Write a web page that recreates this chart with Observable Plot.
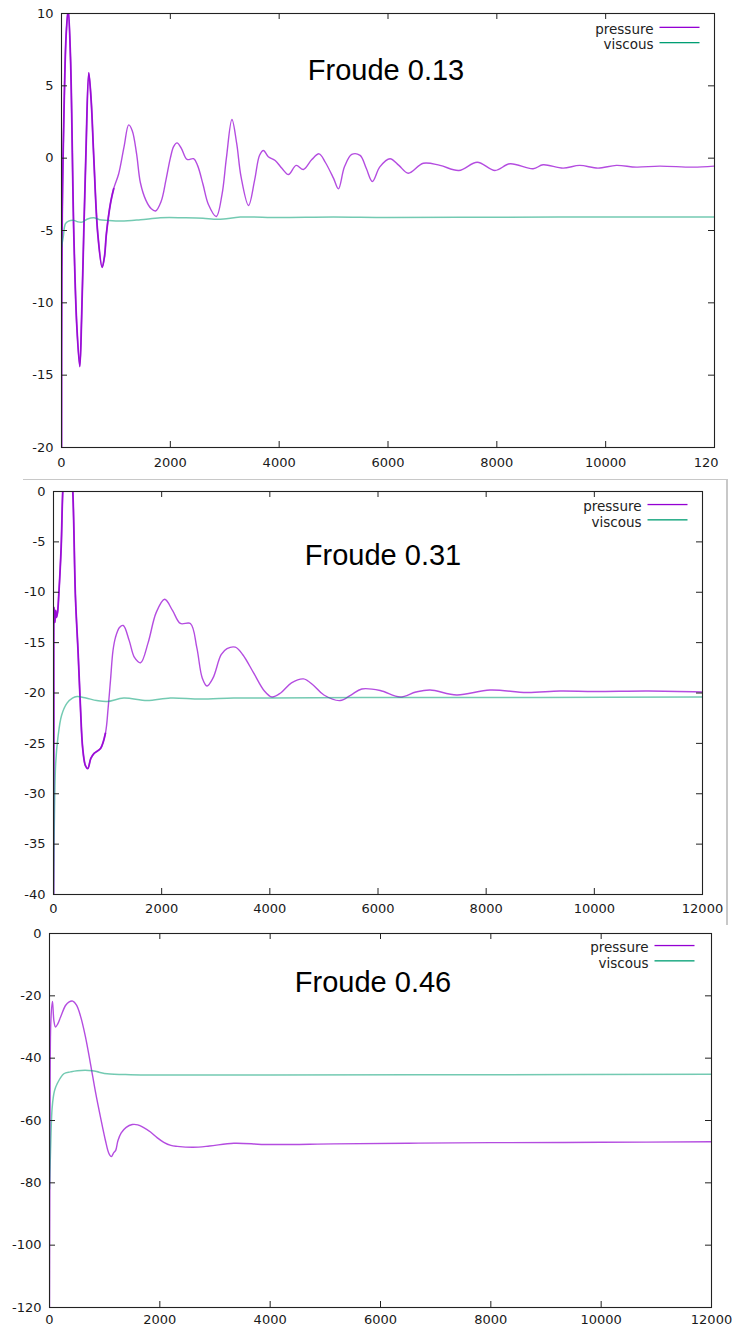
<!DOCTYPE html>
<html>
<head>
<meta charset="utf-8">
<script src="https://cdn.jsdelivr.net/npm/d3@7"></script>
<script src="https://cdn.jsdelivr.net/npm/@observablehq/plot@0.6"></script>
<style>
  html, body { margin: 0; padding: 0; background: white; }
  #wrap { position: relative; width: 738px; height: 1330px; overflow: hidden; }
  #wrap svg { position: absolute; left: 0; }
  #sep { position: absolute; left: 23px; top: 479px; width: 703px; height: 445px;
         border-top: 1px solid #c8c8c8; border-right: 2px solid #c8c8c8; pointer-events: none; }
</style>
</head>
<body>
<div id="wrap"></div>
<script>
// ---- data (time step, force) ----
const xTicks = [0, 2000, 4000, 6000, 8000, 10000, 12000];
const seriesNames = ["pressure", "viscous"];
const titles = ["Froude 0.13", "Froude 0.31", "Froude 0.46"];
// the first panel's last x label is cropped to "120" in the source picture
const lastLabel013 = "120";

const yTicks013 = [-20, -15, -10, -5, 0, 5, 10];
const pressure013 = [[0,-20.5],[5,-8],[20,-2],[50,4],[85,8.5],[123,10.3],[165,7],[226,-5.2],[280,-11.5],[336,-14.4],[370,-11],[409,-5.2],[450,0.5],[501,5.9],[545,4],[593,0.07],[666,-5.2],[747,-7.55],[790,-6.8],[826,-5.2],[899,-3.15],[960,-2.1],[1051,-1.08],[1150,0.8],[1235,2.3],[1300,1.9],[1380,0.3],[1450,-1.7],[1550,-2.9],[1650,-3.5],[1730,-3.65],[1830,-3],[1920,-1.5],[2000,0],[2060,0.8],[2123,1.06],[2200,0.7],[2307,-0.09],[2428,-0.04],[2500,-0.5],[2600,-1.8],[2700,-3.2],[2844,-4.03],[2950,-2.5],[3030,0],[3132,2.67],[3220,1.0],[3300,-1.3],[3437,-3.27],[3550,-1.5],[3640,0.2],[3712,0.53],[3800,0.1],[3927,-0.16],[4050,-0.7],[4171,-1.13],[4312,-0.5],[4446,-0.78],[4600,-0.1],[4734,0.3],[4850,-0.3],[5000,-1.4],[5089,-2.12],[5200,-0.6],[5334,0.26],[5487,0.19],[5600,-0.7],[5713,-1.61],[5850,-0.6],[6037,-0.04],[6200,-0.5],[6373,-1.04],[6649,-0.35],[6955,-0.5],[7303,-0.85],[7640,-0.28],[7965,-0.85],[8240,-0.39],[8667,-0.73],[8850,-0.46],[9217,-0.69],[9523,-0.5],[9859,-0.69],[10197,-0.5],[10563,-0.62],[10991,-0.55],[11603,-0.62],[12000,-0.55]];
const viscous013 = [[0,-6.15],[30,-5.5],[73,-4.53],[130,-4.35],[226,-4.3],[300,-4.4],[380,-4.42],[480,-4.2],[593,-4.12],[700,-4.25],[838,-4.3],[1100,-4.35],[1450,-4.26],[1817,-4.12],[2244,-4.12],[2600,-4.15],[2800,-4.22],[2978,-4.21],[3285,-4.07],[4000,-4.1],[5000,-4.06],[6000,-4.1],[8000,-4.08],[10000,-4.07],[12000,-4.06]];

const yTicks031 = [-40, -35, -30, -25, -20, -15, -10, -5, 0];
const pressure031 = [[0,-40],[5,-25],[10,-11.5],[25,-13],[40,-11.8],[55,-12.5],[75,-12],[98,-10.2],[142,-5.5],[172,0.1],[220,4],[265,5],[310,4],[357,0],[406,-10.5],[456,-16.1],[499,-21.5],[540,-25.5],[590,-27.2],[634,-27.5],[690,-26.5],[750,-26],[870,-25.5],[960,-24],[1010,-21.5],[1053,-18.8],[1100,-15.8],[1145,-14.5],[1220,-13.5],[1290,-13.3],[1400,-14.8],[1500,-16.5],[1610,-17.0],[1750,-15],[1900,-12],[2056,-10.7],[2200,-11.8],[2346,-13.1],[2531,-13.1],[2650,-15.5],[2750,-18.5],[2838,-19.3],[2950,-18.5],[3100,-16.2],[3208,-15.6],[3361,-15.45],[3500,-16.2],[3700,-18],[3900,-19.8],[4039,-20.4],[4200,-20],[4400,-19],[4623,-18.6],[4800,-19.2],[5000,-20.2],[5301,-20.75],[5500,-20.2],[5700,-19.6],[6040,-19.75],[6409,-20.4],[6700,-19.9],[6963,-19.7],[7456,-20.2],[8071,-19.7],[8749,-19.95],[9364,-19.8],[10000,-19.85],[11000,-19.8],[12000,-19.9]];
const viscous031 = [[0,-40],[15,-33],[40,-27],[80,-24.5],[150,-22.2],[250,-21],[350,-20.5],[437,-20.35],[600,-20.5],[800,-20.75],[991,-20.85],[1299,-20.5],[1730,-20.75],[2161,-20.5],[2715,-20.6],[3331,-20.5],[4000,-20.5],[6000,-20.45],[9000,-20.45],[12000,-20.4]];

const yTicks046 = [-120, -100, -80, -60, -40, -20, 0];
const pressure046 = [[0,-120],[10,-60],[25,-28],[54,-21.8],[80,-28],[109,-30],[150,-29],[199,-26.9],[290,-23.1],[350,-22],[422,-21.7],[490,-23],[562,-26.5],[650,-33],[743,-41.8],[835,-51],[925,-59],[1015,-66.5],[1075,-70.5],[1120,-71.6],[1165,-70.3],[1200,-69.6],[1240,-66.5],[1300,-64],[1390,-62.2],[1500,-61.3],[1600,-61.4],[1700,-62.2],[1831,-63.7],[1950,-65.5],[2072,-67],[2200,-68],[2315,-68.3],[2600,-68.6],[2900,-68.2],[3342,-67.3],[3947,-67.7],[5155,-67.5],[6500,-67.3],[8000,-67.1],[10000,-67],[12000,-66.8]];
const viscous046 = [[0,-82],[18,-70],[49,-55.7],[90,-50.5],[139,-48.2],[260,-45],[380,-44.4],[502,-44],[774,-44],[900,-44.5],[1046,-45],[1468,-45.3],[2000,-45.4],[4000,-45.4],[8000,-45.3],[12000,-45.2]];

// ---- styles ----
const colors = {pressure: "#9400d3", viscous: "#009e73"};

function panel({width, height, mt, mb, ml, mr, yDomain, yTicks, pressure, viscous, noisyUntil, title, titleDx, titleDy, legDx, legDy, xPad, top, xFormat}) {
  const pw = width - ml - mr, ph = height - mt - mb;
  const tickLen = 6;
  const svg = Plot.plot({
    width, height,
    marginTop: mt, marginBottom: mb, marginLeft: ml, marginRight: mr,
    style: {fontFamily: "DejaVu Sans", fontSize: "13px", color: "#1a1a1a", background: "white"},
    x: {domain: [0, 12000], ticks: xTicks, tickSize: 0, tickPadding: xPad, tickFormat: xFormat || (d => String(d)), label: null},
    y: {domain: yDomain, ticks: yTicks, tickSize: 0, tickPadding: 8, tickFormat: d => String(d), label: null},
    marks: [
      Plot.line(pressure, {x: d => d[0], y: d => d[1], stroke: colors.pressure, strokeWidth: 1.4, strokeOpacity: 0.7, curve: "catmull-rom", clip: true}),
      Plot.line(pressure.filter(d => d[0] <= noisyUntil), {x: d => d[0], y: d => d[1], stroke: colors.pressure, strokeWidth: 1.8, strokeOpacity: 0.85, curve: "catmull-rom", clip: true}),
      Plot.line(viscous, {x: d => d[0], y: d => d[1], stroke: colors.viscous, strokeWidth: 1.5, strokeOpacity: 0.55, curve: "catmull-rom", clip: true}),
      // inward ticks on all four sides
      Plot.tickX(xTicks, {x: d => d, insetTop: ph - tickLen, stroke: "#222"}),
      Plot.tickX(xTicks, {x: d => d, insetBottom: ph - tickLen, stroke: "#222"}),
      Plot.tickY(yTicks, {y: d => d, insetRight: pw - tickLen, stroke: "#222"}),
      Plot.tickY(yTicks, {y: d => d, insetLeft: pw - tickLen, stroke: "#222"}),
      Plot.frame({stroke: "#222", strokeWidth: 1.1}),
      // title
      Plot.text([title], {text: d => d, frameAnchor: "top-left", dx: titleDx, dy: titleDy, textAnchor: "middle", lineAnchor: "bottom", fontFamily: "Liberation Sans, Arial, sans-serif", fontSize: 29, fill: "black"}),
      // legend
      Plot.text([seriesNames[0]], {text: d => d, frameAnchor: "top-left", dx: legDx, dy: legDy, textAnchor: "end", lineAnchor: "bottom", fontSize: 13.5, fill: "#222"}),
      Plot.text([seriesNames[1]], {text: d => d, frameAnchor: "top-left", dx: legDx, dy: legDy + 15.3, textAnchor: "end", lineAnchor: "bottom", fontSize: 13.5, fill: "#222"}),
      Plot.frame({fill: colors.pressure, stroke: null, insetLeft: legDx + 6, insetRight: pw - (legDx + 46), insetTop: legDy - 7.3, insetBottom: ph - (legDy - 6)}),
      Plot.frame({fill: colors.viscous, stroke: null, insetLeft: legDx + 6, insetRight: pw - (legDx + 46), insetTop: legDy + 8.0, insetBottom: ph - (legDy + 9.3)})
    ]
  });
  svg.style.top = top + "px";
  return svg;
}

const wrap = document.getElementById("wrap");
wrap.appendChild(panel({width: 738, height: 478, mt: 13, mb: 31, ml: 61, mr: 24, yDomain: [-20, 10], yTicks: yTicks013,
  pressure: pressure013, viscous: viscous013, noisyUntil: 1000, title: titles[0], titleDx: 324.5, titleDy: 66, legDx: 592, legDy: 20.5, xPad: 10.5, top: 0,
  xFormat: d => d === 12000 ? lastLabel013 + "    " : String(d)}));
wrap.appendChild(panel({width: 738, height: 440, mt: 11, mb: 26, ml: 53, mr: 36, yDomain: [-40, 0], yTicks: yTicks031,
  pressure: pressure031, viscous: viscous031, noisyUntil: 1000, title: titles[1], titleDx: 329.5, titleDy: 73, legDx: 588, legDy: 19.7, xPad: 9.5, top: 480}));
wrap.appendChild(panel({width: 738, height: 410, mt: 13, mb: 23, ml: 49, mr: 27, yDomain: [-120, 0], yTicks: yTicks046,
  pressure: pressure046, viscous: viscous046, noisyUntil: 0, title: titles[2], titleDx: 323.5, titleDy: 58, legDx: 599, legDy: 18.7, xPad: 7.5, top: 920}));
const sep = document.createElement("div");
sep.id = "sep";
wrap.appendChild(sep);
</script>
</body>
</html>
